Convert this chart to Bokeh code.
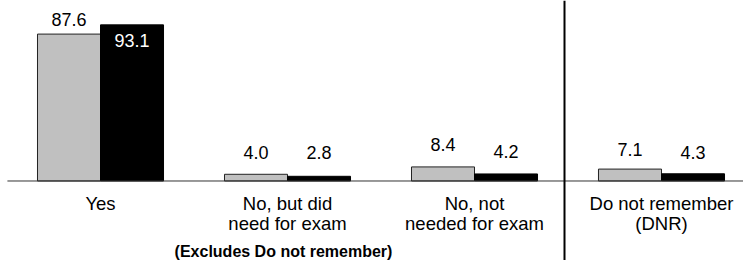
from bokeh.plotting import figure
from bokeh.models import Range1d, Span, ColumnDataSource
from bokeh.core.properties import value
from bokeh.embed import file_html
from bokeh.resources import INLINE

# ---- data ----
categories = ["Yes", "No, but did need for exam", "No, not needed for exam", "Do not remember (DNR)"]
label_line1 = ["Yes", "No, but did", "No, not", "Do not remember"]
label_line2 = ["", "need for exam", "needed for exam", "(DNR)"]
series_a = [87.6, 4.0, 8.4, 7.1]   # grey bars
series_b = [93.1, 2.8, 4.2, 4.3]   # black bars
footnote = "(Excludes Do not remember)"

# ---- styles ----
FONT = value("Liberation Sans")
GREY = "#c0c0c0"
BAR_W = 0.337
SHIFT = -7.5
a_dy = [-7 + SHIFT, -14 + SHIFT, -15 + SHIFT, -12 + SHIFT]
b_dy = [23 + SHIFT, -16 + SHIFT, -15 + SHIFT, -14 + SHIFT]
b_col = ["white", "black", "black", "black"]

X0, X1 = -0.5348, 3.4385
idx = list(range(len(categories)))
xa = [i - BAR_W / 2 for i in idx]
xb = [i + BAR_W / 2 for i in idx]

p = figure(width=743, height=260, output_backend="svg", toolbar_location=None,
           x_range=Range1d(X0, X1), y_range=Range1d(-47.41, 107.63),
           min_border=0, x_axis_type=None, y_axis_type=None)
p.outline_line_color = None
p.xgrid.visible = False
p.ygrid.visible = False
p.background_fill_color = "white"
p.border_fill_color = "white"

p.vbar(x=xa, top=series_a, bottom=0, width=BAR_W, fill_color=GREY, line_color="#222222", line_width=1)
p.vbar(x=xb, top=series_b, bottom=0, width=BAR_W, fill_color="black", line_color="black", line_width=1)

# baseline (starts a few pixels in from the left edge)
p.segment(x0=[X0 + 0.037], y0=[0], x1=[X1], y1=[0], line_color="#333333", line_width=1)
p.add_layout(Span(location=2.4813, dimension="height", line_color="black", line_width=2))

src_a = ColumnDataSource(dict(x=xa, y=series_a, t=["%.1f" % v for v in series_a], dy=a_dy))
src_b = ColumnDataSource(dict(x=xb, y=series_b, t=["%.1f" % v for v in series_b], dy=b_dy, c=b_col))
p.text(x="x", y="y", text="t", y_offset="dy", source=src_a, text_font=FONT, text_font_size="18px",
       text_align="center", text_baseline="alphabetic", text_color="black")
p.text(x="x", y="y", text="t", y_offset="dy", source=src_b, text_font=FONT, text_font_size="18px",
       text_align="center", text_baseline="alphabetic", text_color="c")

zeros = [0] * len(idx)
p.text(x=idx, y=zeros, text=label_line1, y_offset=30 + SHIFT, text_font=FONT, text_font_size="18.5px",
       text_align="center", text_baseline="alphabetic", text_color="black")
p.text(x=idx, y=zeros, text=label_line2, y_offset=50.5 + SHIFT, text_font=FONT, text_font_size="18.5px",
       text_align="center", text_baseline="alphabetic", text_color="black")
p.text(x=[1], y=[0], text=[footnote], x_offset=-4, y_offset=78 + SHIFT, text_font=FONT, text_font_size="16px",
       text_font_style="bold", text_align="center", text_baseline="alphabetic", text_color="black")

open("out.html", "w").write(file_html(p, INLINE))
